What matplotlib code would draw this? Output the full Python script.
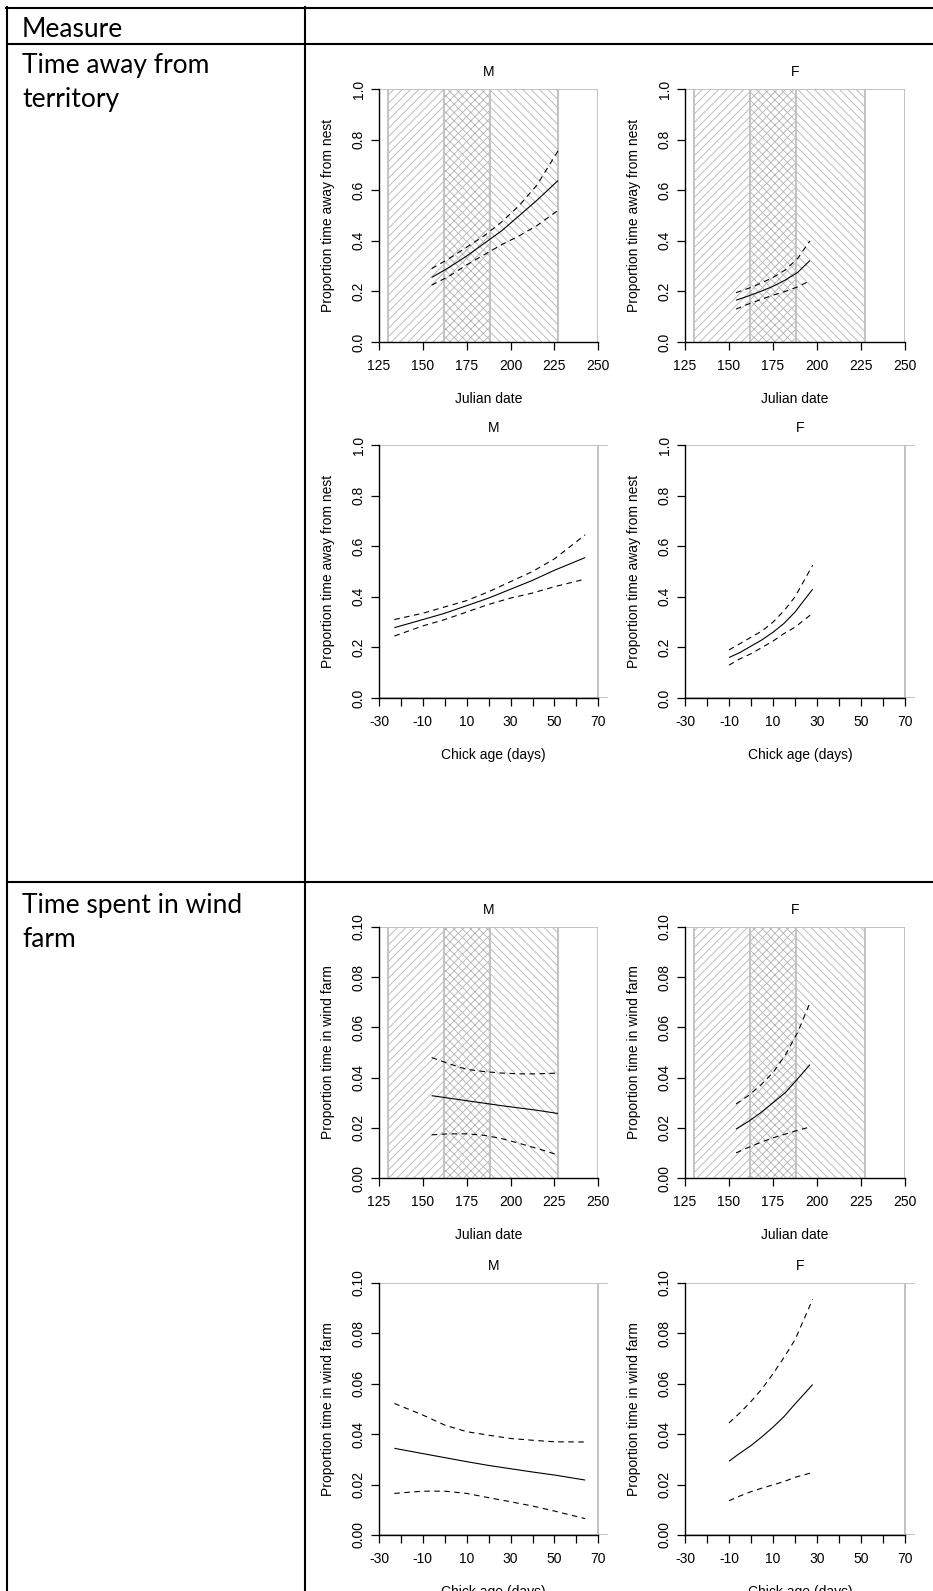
import matplotlib
matplotlib.use('Agg')
import matplotlib.pyplot as plt
from matplotlib import font_manager
from matplotlib.lines import Line2D
from matplotlib.transforms import offset_copy

# ---------------- data ----------------
row_labels = ["Time away from\nterritory", "Time spent in wind\nfarm"]
header_label = "Measure"
sex_titles = ["M", "F"]

phase_bounds = [130, 162, 188, 227]
julian_ticks = [125, 150, 175, 200, 225, 250]
age_ticks = [-30, -20, -10, 0, 10, 20, 30, 40, 50, 60, 70]
age_ticklabels = ["-30", "", "-10", "", "10", "", "30", "", "50", "", "70"]
away_yticks = [0.0, 0.2, 0.4, 0.6, 0.8, 1.0]
away_yticklabels = ["0.0", "0.2", "0.4", "0.6", "0.8", "1.0"]
wind_yticks = [0.0, 0.02, 0.04, 0.06, 0.08, 0.10]
wind_yticklabels = ["0.00", "0.02", "0.04", "0.06", "0.08", "0.10"]

julian_m_x = [155, 165, 175, 185, 195, 205, 215, 227]
julian_f_x = [154, 161, 168, 175, 182, 189, 196]
age_m_x = [-23, -10, 0, 10, 20, 30, 40, 50, 64]
age_f_x = [-10, -5, 0, 5, 10, 15, 20, 28]

away_julian_m_fit = [0.255, 0.295, 0.34, 0.39, 0.44, 0.50, 0.56, 0.638]
away_julian_m_hi = [0.29, 0.33, 0.375, 0.42, 0.475, 0.54, 0.62, 0.755]
away_julian_m_lo = [0.225, 0.26, 0.305, 0.345, 0.385, 0.42, 0.46, 0.52]

away_julian_f_fit = [0.165, 0.182, 0.20, 0.22, 0.245, 0.275, 0.322]
away_julian_f_hi = [0.195, 0.212, 0.232, 0.255, 0.285, 0.33, 0.40]
away_julian_f_lo = [0.13, 0.15, 0.168, 0.185, 0.20, 0.218, 0.242]

away_age_m_fit = [0.278, 0.31, 0.335, 0.365, 0.395, 0.43, 0.465, 0.505, 0.555]
away_age_m_hi = [0.31, 0.335, 0.36, 0.385, 0.42, 0.46, 0.50, 0.55, 0.645]
away_age_m_lo = [0.245, 0.285, 0.31, 0.34, 0.37, 0.395, 0.415, 0.44, 0.47]

away_age_f_fit = [0.16, 0.18, 0.205, 0.23, 0.26, 0.295, 0.34, 0.43]
away_age_f_hi = [0.19, 0.215, 0.24, 0.265, 0.30, 0.345, 0.40, 0.525]
away_age_f_lo = [0.13, 0.155, 0.175, 0.20, 0.225, 0.255, 0.28, 0.335]

wind_julian_m_fit = [0.0328, 0.0318, 0.0308, 0.0298, 0.0288, 0.0279, 0.0270, 0.0257]
wind_julian_m_hi = [0.048, 0.0455, 0.0433, 0.0424, 0.0418, 0.0415, 0.0415, 0.0418]
wind_julian_m_lo = [0.0172, 0.0176, 0.0176, 0.017, 0.0157, 0.0138, 0.0118, 0.0092]

wind_julian_f_fit = [0.0195, 0.0225, 0.026, 0.030, 0.034, 0.0395, 0.0452]
wind_julian_f_hi = [0.0295, 0.0328, 0.037, 0.042, 0.049, 0.058, 0.0698]
wind_julian_f_lo = [0.0100, 0.0122, 0.0142, 0.016, 0.0175, 0.019, 0.0203]

wind_age_m_fit = [0.0344, 0.0323, 0.0307, 0.0291, 0.0276, 0.0263, 0.0250, 0.0238, 0.0218]
wind_age_m_hi = [0.0522, 0.0476, 0.0436, 0.041, 0.0396, 0.0383, 0.0376, 0.037, 0.0369]
wind_age_m_lo = [0.0165, 0.0174, 0.0174, 0.0165, 0.0148, 0.0132, 0.0115, 0.0095, 0.0065]

wind_age_f_fit = [0.0293, 0.0325, 0.0355, 0.039, 0.0428, 0.047, 0.052, 0.0597]
wind_age_f_hi = [0.0445, 0.0485, 0.053, 0.058, 0.064, 0.0705, 0.0775, 0.0935]
wind_age_f_lo = [0.0136, 0.0155, 0.0172, 0.0186, 0.0199, 0.0212, 0.0229, 0.0248]

# ---------------- style ----------------
W, H = 933, 1591
names = {f.name for f in font_manager.fontManager.ttflist}
if 'Liberation Sans Narrow' in names:
    RFONT, RSIZE = 'Liberation Sans Narrow', 11.5
else:
    RFONT, RSIZE = 'Liberation Sans', 10.0
TFONT = 'Lato' if 'Lato' in names else 'DejaVu Sans'
TSIZE = 19

BOX_GRAY = '#bebebe'
HATCH_GRAY = '#b4b4b4'
plt.rcParams['hatch.linewidth'] = 0.6
plt.rcParams['font.family'] = [RFONT, 'DejaVu Sans']

fig = plt.figure(figsize=(W / 100, H / 100), dpi=100)


def px_axes(left, top, right, bottom):
    return fig.add_axes([left / W, 1 - bottom / H, (right - left) / W, (bottom - top) / H])


def draw_panel(ax, kind, x, fit, lo, hi, title, ylabel, yticks, yticklabels):
    ymax = yticks[-1]
    if kind == 'julian':
        ax.set_xlim(julian_ticks[0], julian_ticks[-1])
        hatches = ['////', 'xxxx', '\\\\\\\\']
        for a, b, h in zip(phase_bounds[:-1], phase_bounds[1:], hatches):
            ax.axvspan(a, b, facecolor='white', edgecolor=HATCH_GRAY, hatch=h,
                       linewidth=0, zorder=0.5)
        for b in phase_bounds:
            ax.axvline(b, color=BOX_GRAY, lw=1.3, zorder=0.8)
        ax.set_xticks(julian_ticks)
        ax.set_xticklabels([str(t) for t in julian_ticks])
        xend = julian_ticks[-1]
        xlabel = 'Julian date'
    else:
        ax.set_xlim(age_ticks[0], 74.5)
        ax.set_xticks(age_ticks)
        ax.set_xticklabels(age_ticklabels)
        xend = age_ticks[-1]
        ax.spines['bottom'].set_bounds(age_ticks[0], age_ticks[-1])
        ax.axhline(0, color=BOX_GRAY, lw=1.3, zorder=0.8)
        xlabel = 'Chick age (days)'
    ax.set_ylim(0, ymax)
    ax.axhline(ymax, color=BOX_GRAY, lw=1.3, zorder=0.8)
    ax.axvline(xend, color=BOX_GRAY, lw=1.3, zorder=0.8)

    ax.plot(x, fit, color='black', lw=0.8, solid_capstyle='butt', zorder=3)
    for band in (lo, hi):
        ax.plot(x, band, color='black', lw=0.8, dashes=(5, 4), zorder=3)

    for s in ('top', 'right'):
        ax.spines[s].set_visible(False)
    for s in ('left', 'bottom'):
        ax.spines[s].set_color('black')
        ax.spines[s].set_linewidth(1.0)
        ax.spines[s].set_zorder(4)

    ax.set_yticks(yticks)
    ax.set_yticklabels(yticklabels, rotation=90, va='center')
    ax.tick_params(axis='both', direction='out', length=5.8, width=0.9,
                   labelsize=RSIZE, color='black')
    ax.tick_params(axis='x', pad=6.5)
    ax.tick_params(axis='y', pad=3.8)
    ax.set_facecolor('white')

    ax.text(0.5, 1, title, transform=offset_copy(ax.transAxes, fig=fig, y=16.5, units='dots'),
            ha='center', va='center', fontsize=RSIZE)
    ax.text(0.5, 0, xlabel, transform=offset_copy(ax.transAxes, fig=fig, y=-61, units='dots'),
            ha='center', va='baseline', fontsize=RSIZE)
    ax.text(0, 0.5, ylabel, transform=offset_copy(ax.transAxes, fig=fig, x=-51, units='dots'),
            ha='center', va='center', rotation=90, fontsize=RSIZE)


col_left = [379, 685]
julian_right = [598.3, 905]
age_right = [608.2, 915]
row_top = [89, 445, 927, 1283]
row_bottom = [342, 698, 1178, 1535]

panels = [
    (0, 'julian', julian_m_x, away_julian_m_fit, away_julian_m_lo, away_julian_m_hi, 'Proportion time away from nest', away_yticks, away_yticklabels),
    (0, 'julian', julian_f_x, away_julian_f_fit, away_julian_f_lo, away_julian_f_hi, 'Proportion time away from nest', away_yticks, away_yticklabels),
    (1, 'age', age_m_x, away_age_m_fit, away_age_m_lo, away_age_m_hi, 'Proportion time away from nest', away_yticks, away_yticklabels),
    (1, 'age', age_f_x, away_age_f_fit, away_age_f_lo, away_age_f_hi, 'Proportion time away from nest', away_yticks, away_yticklabels),
    (2, 'julian', julian_m_x, wind_julian_m_fit, wind_julian_m_lo, wind_julian_m_hi, 'Proportion time in wind farm', wind_yticks, wind_yticklabels),
    (2, 'julian', julian_f_x, wind_julian_f_fit, wind_julian_f_lo, wind_julian_f_hi, 'Proportion time in wind farm', wind_yticks, wind_yticklabels),
    (3, 'age', age_m_x, wind_age_m_fit, wind_age_m_lo, wind_age_m_hi, 'Proportion time in wind farm', wind_yticks, wind_yticklabels),
    (3, 'age', age_f_x, wind_age_f_fit, wind_age_f_lo, wind_age_f_hi, 'Proportion time in wind farm', wind_yticks, wind_yticklabels),
]

for i, (row, kind, x, fit, lo, hi, ylab, yt, ytl) in enumerate(panels):
    col = i % 2
    right = julian_right[col] if kind == 'julian' else age_right[col]
    ax = px_axes(col_left[col], row_top[row], right, row_bottom[row])
    draw_panel(ax, kind, x, fit, lo, hi, sex_titles[col], ylab, yt, ytl)

# ---------------- table frame ----------------
def hline(y, x0=7, x1=W):
    fig.add_artist(Line2D([x0 / W, x1 / W], [1 - y / H, 1 - y / H], color='black', lw=1.5,
                          transform=fig.transFigure))


def vline(x, y0=6.5, y1=H):
    fig.add_artist(Line2D([x / W, x / W], [1 - y0 / H, 1 - y1 / H], color='black', lw=1.5,
                          transform=fig.transFigure))


hline(7.5, 6)
hline(44)
hline(882.5)
vline(7)
vline(305)

fig.text(22 / W, 1 - 37 / H, header_label, fontsize=TSIZE, family=TFONT, va='baseline')
row_text_baselines = [73, 913]
for lab, yb in zip(row_labels, row_text_baselines):
    for j, line in enumerate(lab.split('\n')):
        fig.text(22 / W, 1 - (yb + 34 * j) / H, line, fontsize=TSIZE, family=TFONT, va='baseline')

fig.savefig('out.png', dpi=100, facecolor='white')
